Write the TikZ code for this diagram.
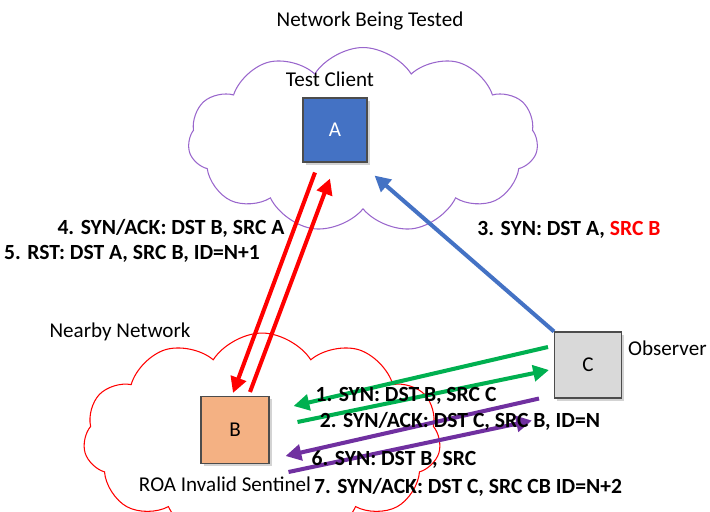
\documentclass[tikz,border=0pt]{standalone}
\usepackage{fontspec}
\setmainfont{Carlito}
\usetikzlibrary{calc,arrows.meta,shapes.symbols,shadows}
\definecolor{boxA}{HTML}{4472C4}
\definecolor{boxB}{HTML}{F4B183}
\definecolor{boxC}{HTML}{D9D9D9}
\definecolor{cloudpurple}{HTML}{9966CC}
\definecolor{synblue}{HTML}{4472C4}
\definecolor{syngreen}{HTML}{00B050}
\definecolor{synpurple}{HTML}{7030A0}

\begin{document}
\begin{tikzpicture}[x=0.02cm,y=-0.02cm,font=\fontsize{12}{14}\selectfont,
    hostbox/.style={draw=black!70,line width=.6pt,inner sep=0pt,drop shadow={opacity=.35,shadow xshift=1.5pt,shadow yshift=-1.5pt}},
    netcloud/.style={cloud,cloud puffs=11,cloud puff arc=115,line width=.6pt,inner sep=0pt},
    pkt/.style={line width=2.3pt,-{Triangle[length=9pt,width=9pt]}},
    pktlabel/.style={font=\fontsize{12.3}{14}\selectfont\bfseries,inner sep=0pt}]

  %% Frame of the picture
  \useasboundingbox (0,0) rectangle (710,511);
  \clip (0,0) rectangle (710,511);

  %% The two networks
  \node[netcloud,aspect=1.9,draw=cloudpurple,minimum width=7cm,minimum height=3.7cm] (tested) at (363,140) {};
  \node[netcloud,aspect=1.6,draw=red,minimum width=7.15cm,minimum height=4.2cm] (nearby) at (262,438) {};

  %% Hosts
  \node[hostbox,fill=boxA,minimum width=1.28cm,minimum height=1.28cm,text=white] (A) at (335,130) {A};
  \node[hostbox,fill=boxB,minimum width=1.36cm,minimum height=1.34cm] (B) at (235,430) {B};
  \node[hostbox,fill=boxC,minimum width=1.34cm,minimum height=1.32cm] (C) at (588,365) {C};

  %% Texts
  \node (title) at (370,21) {Network Being Tested};
  \node (client) at (330,79) {Test Client};
  \node (near) at (120,332) {Nearby Network};
  \node (sentinel) at (225,484) {ROA Invalid Sentinel};
  \node[anchor=west] (observer) at (C.east|-{(0,348)}) {Observer};

  %% Packets
  \draw[pkt,synblue] (C.north west) -- ($(A.south east)+(7,13)$);
  \draw[pkt,red] ($(A.south)+(-20,10)$) -- ($(B.north)+(-2,-3)$);
  \draw[pkt,red] ($(B.north)+(15,-4)$) -- ($(A.south)+(-5,16)$);
  \draw[pkt,syngreen] ($(C.west)+(-6,-18)$) -- ($(B.east)+(24,-24)$);
  \draw[pkt,syngreen] ($(B.east)+(28,-8)$) -- ($(C.west)+(-5,5)$);
  \draw[pkt,synpurple] ($(C.south west)+(-15,0)$) -- ($(B.east)+(16,26)$);
  \draw[pkt,synpurple] ($(B.east)+(19,42)$) -- ($(C.south west)+(-22,22)$);

  %% Packet labels
  \node[pktlabel] (l4) at (171,228) {4. SYN/ACK: DST B, SRC A};
  \node[pktlabel] (l5) at (132,254) {5. RST: DST A, SRC B, ID=N+1};
  \node[pktlabel] (l3) at (569,230) {3. SYN: DST A, \textcolor{red}{SRC B}};
  \node[pktlabel] (l1) at (406,396) {1. SYN: DST B, SRC C};
  \node[pktlabel] (l2) at (460,421) {2. SYN/ACK: DST C, SRC B, ID=N};
  \node[pktlabel] (l6) at (394,460) {6. SYN: DST B, SRC};
  \node[pktlabel] (l7) at (468,487) {7. SYN/ACK: DST C, SRC CB ID=N+2};

\end{tikzpicture}
\end{document}
